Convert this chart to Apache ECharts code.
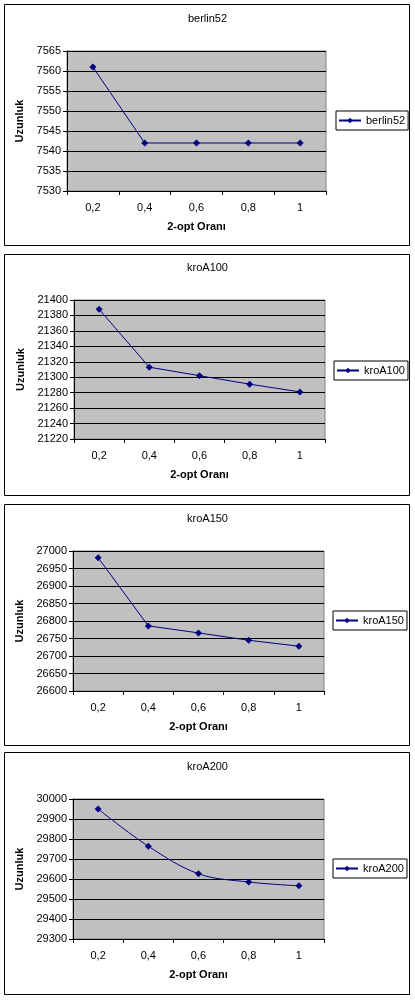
<!DOCTYPE html>
<html><head><meta charset="utf-8">
<script src="https://cdn.jsdelivr.net/npm/echarts@6/dist/echarts.min.js"></script>
<style>html,body{margin:0;padding:0;background:#fff}#c{width:415px;height:1000px}</style>
</head><body><div id="c"></div>
<script>
const categories = ['0,2','0,4','0,6','0,8','1'];
const berlin52 = [7561, 7542, 7542, 7542, 7542];
const kroA100 = [21388, 21313, 21302, 21291, 21281];
const kroA150 = [26981, 26786, 26766, 26745, 26728];
const kroA200 = [29950, 29764, 29626, 29585, 29566];
const names = ['berlin52','kroA100','kroA150','kroA200'];
const seriesData = [berlin52, kroA100, kroA150, kroA200];
const yMin = [7530, 21220, 26600, 29300];
const yMax = [7565, 21400, 27000, 30000];
const yStep = [5, 20, 50, 100];
const smoothFlags = [false, false, false, 0.35];

// layout
const panels = [
  {box:[4,4,405,241], grid:{left:67,top:51,width:259,height:140}, titleTop:13, legend:{left:336,top:111}, nameGap:[28,30]},
  {box:[4,254,405,241], grid:{left:74,top:300,width:251,height:139}, titleTop:262, legend:{left:334,top:361}, nameGap:[35,30]},
  {box:[4,504,405,241], grid:{left:73,top:551,width:251,height:140}, titleTop:513, legend:{left:333,top:611}, nameGap:[35,30]},
  {box:[4,752,405,242], grid:{left:73,top:799,width:251,height:140}, titleTop:761, legend:{left:333,top:859}, nameGap:[35,30]}
];
const FONT = '"Liberation Sans", Arial, sans-serif';
const option = {animation:false, title:[], legend:[], grid:[], xAxis:[], yAxis:[], series:[], graphic:[]};
panels.forEach((p,i)=>{
  option.graphic.push({type:'rect', shape:{x:p.box[0]+0.5,y:p.box[1]+0.5,width:p.box[2],height:p.box[3]}, style:{fill:'none',stroke:'#000',lineWidth:1}, z:-1});
  option.title.push({text:names[i], left:'center', top:p.titleTop, padding:0, textStyle:{fontFamily:FONT,fontSize:11,fontWeight:'normal',color:'#000'}});
  option.legend.push({data:[names[i]], left:p.legend.left, top:p.legend.top, borderColor:'#000', borderWidth:1, padding:[4,3,4,2], itemWidth:22, itemHeight:7, textStyle:{fontFamily:FONT,fontSize:11,color:'#000'}});
  option.grid.push(Object.assign({show:true, backgroundColor:'#C0C0C0', borderColor:'#808080', borderWidth:1}, p.grid));
  option.xAxis.push({type:'category', gridIndex:i, data:categories, boundaryGap:true,
    name:'2-opt Oranı', nameLocation:'middle', nameGap:p.nameGap[1],
    nameTextStyle:{fontFamily:FONT,fontSize:11,fontWeight:'bold',color:'#000'},
    axisLine:{lineStyle:{color:'#000',width:1}}, axisTick:{show:true,length:4,inside:false,alignWithLabel:false,lineStyle:{color:'#000'}},
    axisLabel:{fontFamily:FONT,fontSize:11,color:'#000',margin:11}, splitLine:{show:false}});
  option.yAxis.push({type:'value', gridIndex:i, min:yMin[i], max:yMax[i], interval:yStep[i],
    name:'Uzunluk', nameLocation:'middle', nameGap:p.nameGap[0],
    nameTextStyle:{fontFamily:FONT,fontSize:11,fontWeight:'bold',color:'#000'},
    axisLine:{show:true,lineStyle:{color:'#000',width:1}}, axisTick:{show:true,length:4,lineStyle:{color:'#000'}},
    axisLabel:{fontFamily:FONT,fontSize:11,color:'#000',margin:6, formatter:v=>String(v)},
    splitLine:{show:true,lineStyle:{color:'#000',width:1}}});
  option.series.push({type:'line', name:names[i], xAxisIndex:i, yAxisIndex:i, data:seriesData[i], smooth:smoothFlags[i],
    symbol:'diamond', symbolSize:7, lineStyle:{color:'#000080',width:1}, itemStyle:{color:'#000080'}});
});
const chart = echarts.init(document.getElementById('c'), null, {renderer:'canvas'});
chart.setOption(option);
</script></body></html>
